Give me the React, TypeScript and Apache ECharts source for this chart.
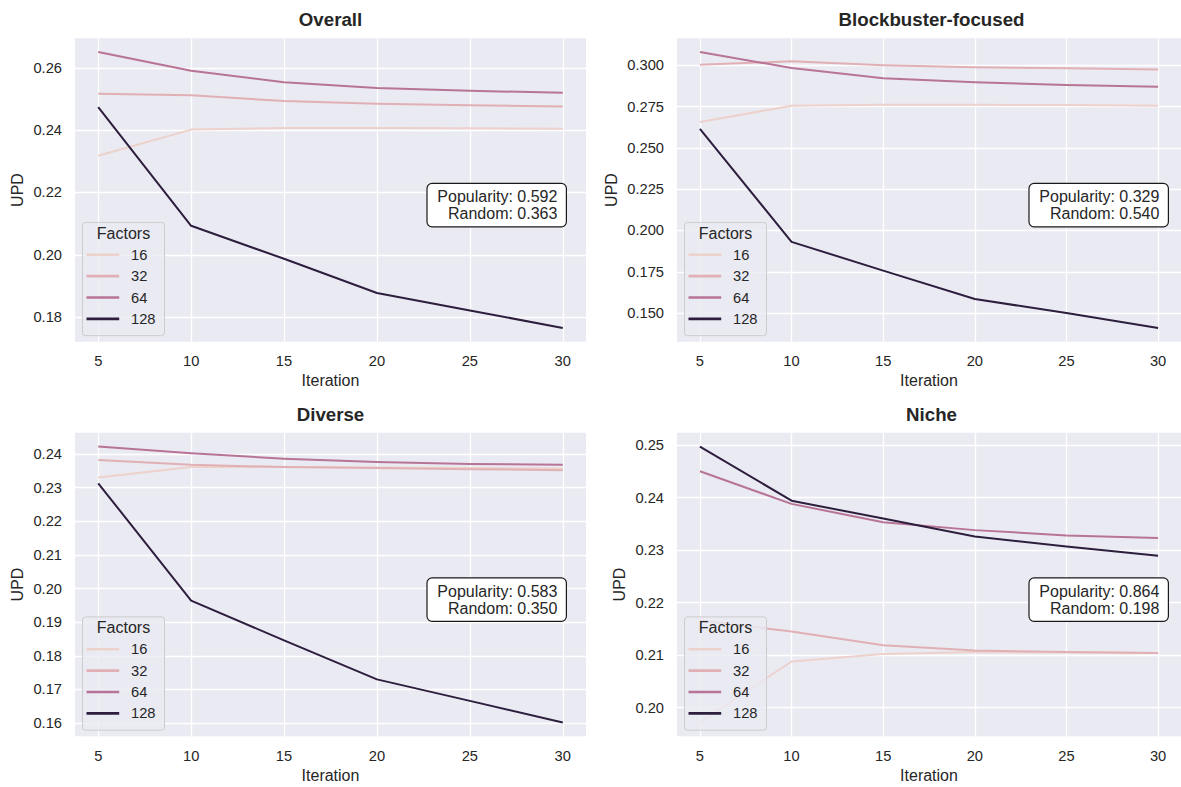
import React, { useEffect, useRef } from 'react';
import * as echarts from 'echarts';

// Iterations on the x axis and the latent factor counts shown as hue levels
const iterations = [5, 10, 15, 20, 25, 30];
const factorLevels = ['16', '32', '64', '128'];
const factorColors = ['#EDD1CB', '#E1B0B4', '#B87496', '#2D1E3E'];

const panelTitles = ['Overall', 'Blockbuster-focused', 'Diverse', 'Niche'];

// UPD per iteration, one array per user group and factor count
const overall16 = [0.2318, 0.2402, 0.2407, 0.2407, 0.2406, 0.2405];
const overall32 = [0.2517, 0.2512, 0.2494, 0.2485, 0.248, 0.2476];
const overall64 = [0.2651, 0.2591, 0.2554, 0.2536, 0.2527, 0.252];
const overall128 = [0.2474, 0.2093, 0.1987, 0.1877, 0.1821, 0.1765];

const blockbuster16 = [0.2657, 0.2755, 0.2761, 0.2761, 0.2759, 0.2755];
const blockbuster32 = [0.3004, 0.3024, 0.3, 0.2988, 0.2982, 0.2974];
const blockbuster64 = [0.308, 0.2984, 0.2922, 0.2898, 0.288, 0.287];
const blockbuster128 = [0.2615, 0.1931, 0.1757, 0.1585, 0.15, 0.141];

const diverse16 = [0.233, 0.2361, 0.2361, 0.236, 0.2358, 0.2357];
const diverse32 = [0.2382, 0.2368, 0.2361, 0.2358, 0.2355, 0.2352];
const diverse64 = [0.2422, 0.2402, 0.2386, 0.2376, 0.237, 0.2368];
const diverse128 = [0.2313, 0.1964, 0.1846, 0.173, 0.1666, 0.1602];

const niche16 = [0.1972, 0.2088, 0.2102, 0.2106, 0.2105, 0.2104];
const niche32 = [0.2166, 0.2145, 0.2119, 0.2109, 0.2106, 0.2104];
const niche64 = [0.245, 0.2388, 0.2353, 0.2338, 0.2328, 0.2323];
const niche128 = [0.2497, 0.2394, 0.236, 0.2326, 0.2307, 0.2289];

// Baseline scores printed in each panel's box
const popularityScores = [0.592, 0.329, 0.583, 0.864];
const randomScores = [0.363, 0.54, 0.35, 0.198];

// Tick positions
const xTicks = [5, 10, 15, 20, 25, 30];
const overallTicks = [0.18, 0.2, 0.22, 0.24, 0.26];
const blockbusterTicks = [0.15, 0.175, 0.2, 0.225, 0.25, 0.275, 0.3];
const diverseTicks = [0.16, 0.17, 0.18, 0.19, 0.2, 0.21, 0.22, 0.23, 0.24];
const nicheTicks = [0.2, 0.21, 0.22, 0.23, 0.24, 0.25];
const tickDecimals = [2, 3, 2, 2];

const panelSeries = [
  [overall16, overall32, overall64, overall128],
  [blockbuster16, blockbuster32, blockbuster64, blockbuster128],
  [diverse16, diverse32, diverse64, diverse128],
  [niche16, niche32, niche64, niche128],
];
const panelTicks = [overallTicks, blockbusterTicks, diverseTicks, nicheTicks];

const FONT = '"Liberation Sans", Arial, "DejaVu Sans", sans-serif';
const INK = '#262626';
const PANEL_BG = '#EAEAF2';
const OVERLAY_Z = 100;

// Plot rectangles in pixels
const plotBoxes = [
  { left: 75, top: 38.3, width: 511, height: 303.4 },
  { left: 677, top: 38.3, width: 509, height: 303.4 },
  { left: 75, top: 432.8, width: 511, height: 303.4 },
  { left: 677, top: 432.8, width: 509, height: 303.4 },
];

function paddedRange(values: number[]): [number, number] {
  const lo = Math.min(...values);
  const hi = Math.max(...values);
  const pad = (hi - lo) * 0.05;
  return [lo - pad, hi + pad];
}

function buildOption() {
  const grid: any[] = [];
  const xAxis: any[] = [];
  const yAxis: any[] = [];
  const series: any[] = [];
  const graphic: any[] = [];

  const xPad = (iterations[iterations.length - 1] - iterations[0]) * 0.05;

  panelSeries.forEach((lines, i) => {
    const box = plotBoxes[i];
    grid.push({
      left: box.left,
      top: box.top,
      width: box.width,
      height: box.height,
      show: true,
      backgroundColor: PANEL_BG,
      borderWidth: 0,
      containLabel: false,
    });

    xAxis.push({
      type: 'value',
      gridIndex: i,
      min: iterations[0] - xPad,
      max: iterations[iterations.length - 1] + xPad,
      axisLine: { show: false },
      axisTick: { show: false, customValues: xTicks },
      axisLabel: {
        customValues: xTicks,
        formatter: (v: number) => String(v),
        color: INK,
        fontSize: 14.7,
        fontFamily: FONT,
        margin: 12,
      },
      splitLine: { show: true, lineStyle: { color: '#FFFFFF', width: 1.3 } },
      name: 'Iteration',
      nameLocation: 'middle',
      nameGap: 31,
      nameTextStyle: { color: INK, fontSize: 16, fontFamily: FONT },
    });

    const [yMin, yMax] = paddedRange(lines.flat());
    const dec = tickDecimals[i];
    yAxis.push({
      type: 'value',
      gridIndex: i,
      min: yMin,
      max: yMax,
      axisLine: { show: false },
      axisTick: { show: false, customValues: panelTicks[i] },
      axisLabel: {
        customValues: panelTicks[i],
        formatter: (v: number) => v.toFixed(dec),
        color: INK,
        fontSize: 14.7,
        fontFamily: FONT,
        margin: 13,
      },
      splitLine: { show: true, lineStyle: { color: '#FFFFFF', width: 1.3 } },
      name: 'UPD',
      nameLocation: 'middle',
      nameGap: dec === 3 ? 58 : 50,
      nameRotate: 90,
      nameTextStyle: { color: INK, fontSize: 16, fontFamily: FONT },
    });

    lines.forEach((vals, k) => {
      series.push({
        type: 'line',
        name: factorLevels[k],
        xAxisIndex: i,
        yAxisIndex: i,
        data: iterations.map((it, j) => [it, vals[j]]),
        symbol: 'none',
        silent: true,
        z: 2,
        lineStyle: { color: factorColors[k], width: 2, join: 'round' },
        itemStyle: { color: factorColors[k] },
      });
    });

    // Panel title
    graphic.push({
      type: 'text',
      x: box.left + box.width / 2,
      y: box.top - 18.5,
      z: OVERLAY_Z,
      style: {
        text: panelTitles[i],
        fill: INK,
        font: `bold 18.7px ${FONT}`,
        align: 'center',
        verticalAlign: 'middle',
      },
    });

    // Legend box in the lower left corner
    const legW = 82;
    const legH = 113.3;
    const legX = box.left + 7.5;
    const legY = box.top + box.height - 6 - legH;
    graphic.push({
      type: 'rect',
      z: OVERLAY_Z,
      shape: { x: legX, y: legY, width: legW, height: legH, r: 3 },
      style: { fill: 'rgba(234,234,242,0.8)', stroke: '#CCCCCC', lineWidth: 1 },
    });
    graphic.push({
      type: 'text',
      z: OVERLAY_Z + 1,
      x: legX + legW / 2,
      y: legY + 10.8,
      style: {
        text: 'Factors',
        fill: INK,
        font: `16px ${FONT}`,
        align: 'center',
        verticalAlign: 'middle',
      },
    });
    factorLevels.forEach((lvl, k) => {
      const ly = legY + 32.3 + k * 21.4;
      graphic.push({
        type: 'line',
        z: OVERLAY_Z + 1,
        shape: { x1: legX + 4, y1: ly, x2: legX + 36.7, y2: ly },
        style: { stroke: factorColors[k], lineWidth: 2.6 },
      });
      graphic.push({
        type: 'text',
        z: OVERLAY_Z + 1,
        x: legX + 48.5,
        y: ly,
        style: {
          text: lvl,
          fill: INK,
          font: `14.7px ${FONT}`,
          align: 'left',
          verticalAlign: 'middle',
        },
      });
    });

    // Baseline score box
    const annW = 139.4;
    const annH = 43.4;
    const annX = box.left + 352;
    const annY = box.top + box.height * 0.55 - annH / 2;
    graphic.push({
      type: 'rect',
      z: OVERLAY_Z,
      shape: { x: annX, y: annY, width: annW, height: annH, r: 5 },
      style: { fill: '#FFFFFF', stroke: '#1A1A1A', lineWidth: 1.2 },
    });
    graphic.push({
      type: 'text',
      z: OVERLAY_Z + 1,
      x: annX + annW - 9,
      y: annY + annH / 2,
      style: {
        text: `Popularity: ${popularityScores[i].toFixed(3)}\nRandom: ${randomScores[i].toFixed(3)}`,
        fill: INK,
        font: `16px ${FONT}`,
        lineHeight: 17.3,
        align: 'right',
        verticalAlign: 'middle',
      },
    });
  });

  return {
    animation: false,
    backgroundColor: '#FFFFFF',
    grid,
    xAxis,
    yAxis,
    series,
    graphic: { elements: graphic },
  };
}

export default function App() {
  const ref = useRef<HTMLDivElement>(null);

  useEffect(() => {
    document.body.style.margin = '0';
    if (!ref.current) return;
    const chart = echarts.init(ref.current, null, { renderer: 'svg' });
    chart.setOption(buildOption());
    return () => {
      chart.dispose();
    };
  }, []);

  return <div ref={ref} style={{ width: 1181, height: 787 }} />;
}
